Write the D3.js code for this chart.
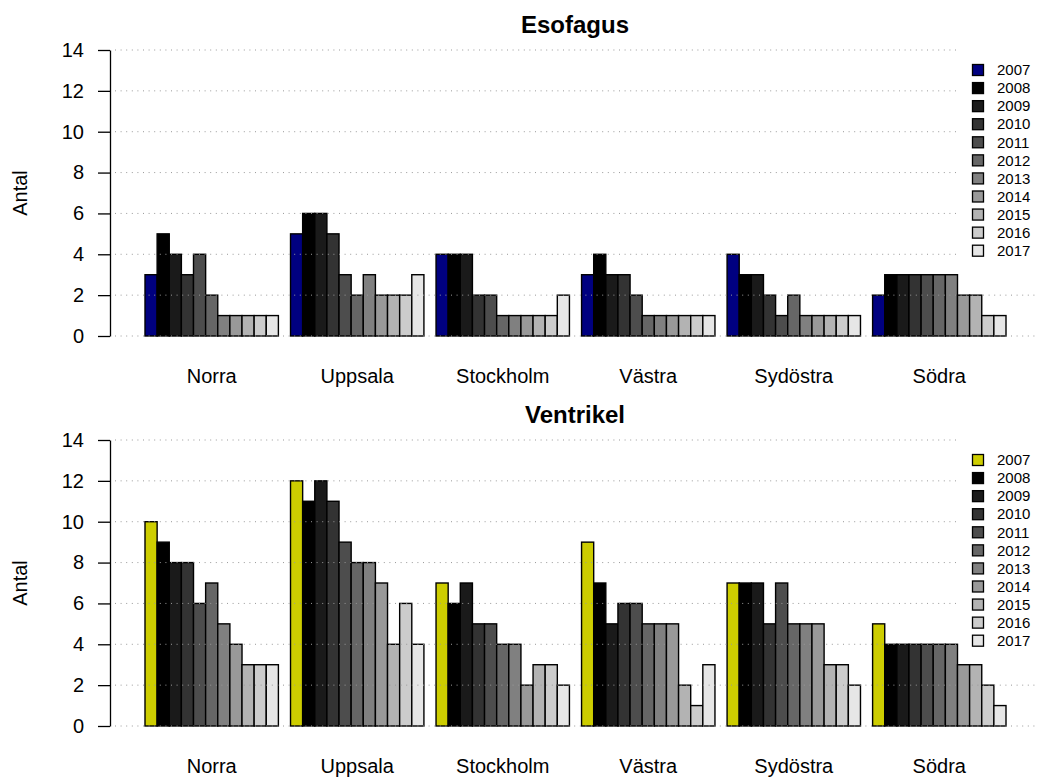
<!DOCTYPE html>
<html>
<head>
<meta charset="utf-8">
<script src="https://cdn.jsdelivr.net/npm/d3@7"></script>
<style>
  html, body { margin: 0; padding: 0; background: #fff; }
  svg { display: block; font-family: "Liberation Sans", Arial, sans-serif; }
</style>
</head>
<body>
<svg id="chart" width="1039" height="778"></svg>
<script>
// Regions and years shown in both panels
const regions = ["Norra", "Uppsala", "Stockholm", "Västra", "Sydöstra", "Södra"];
const years = ["2007", "2008", "2009", "2010", "2011", "2012", "2013", "2014", "2015", "2016", "2017"];
const yTicks = [0, 2, 4, 6, 8, 10, 12, 14];

// Counts per region, one value per year 2007..2017
const esofagus = [
  [3, 5, 4, 3, 4, 2, 1, 1, 1, 1, 1],
  [5, 6, 6, 5, 3, 2, 3, 2, 2, 2, 3],
  [4, 4, 4, 2, 2, 1, 1, 1, 1, 1, 2],
  [3, 4, 3, 3, 2, 1, 1, 1, 1, 1, 1],
  [4, 3, 3, 2, 1, 2, 1, 1, 1, 1, 1],
  [2, 3, 3, 3, 3, 3, 3, 2, 2, 1, 1]
];
const ventrikel = [
  [10, 9, 8, 8, 6, 7, 5, 4, 3, 3, 3],
  [12, 11, 12, 11, 9, 8, 8, 7, 4, 6, 4],
  [7, 6, 7, 5, 5, 4, 4, 2, 3, 3, 2],
  [9, 7, 5, 6, 6, 5, 5, 5, 2, 1, 3],
  [7, 7, 7, 5, 7, 5, 5, 5, 3, 3, 2],
  [5, 4, 4, 4, 4, 4, 4, 3, 3, 2, 1]
];

// Grey ramp for 2008..2017; first year gets a highlight colour per panel
const greys = ["#000000", "#1A1A1A", "#333333", "#4D4D4D", "#666666", "#808080", "#999999", "#B3B3B3", "#CCCCCC", "#E6E6E6"];

const panels = [
  { title: "Esofagus", data: esofagus, first: "#000080", top: 0 },
  { title: "Ventrikel", data: ventrikel, first: "#CDCD00", top: 390 }
];

const svg = d3.select("#chart");

const x0 = d3.scaleBand().domain(regions).range([145, 1006]).paddingInner(1 / 12).paddingOuter(0);
const x1 = d3.scaleBand().domain(years).range([0, x0.bandwidth()]);

panels.forEach(p => {
  const g = svg.append("g").attr("transform", `translate(0,${p.top})`);
  const y = d3.scaleLinear().domain([0, 14]).range([336, 50]);
  const color = d3.scaleOrdinal().domain(years).range([p.first].concat(greys));

  // bars
  const groups = g.selectAll("g.region")
    .data(regions.map((r, i) => ({ region: r, values: p.data[i] })))
    .join("g")
    .attr("class", "region")
    .attr("transform", d => `translate(${x0(d.region)},0)`);

  groups.selectAll("rect")
    .data(d => d.values.map((v, j) => ({ year: years[j], value: v })))
    .join("rect")
    .attr("x", d => x1(d.year))
    .attr("y", d => y(d.value))
    .attr("width", x1.bandwidth())
    .attr("height", d => y(0) - y(d.value))
    .attr("fill", d => color(d.year))
    .attr("stroke", "#000")
    .attr("stroke-width", 1.4);

  // dotted horizontal guides, drawn over the bars
  g.append("g").selectAll("line")
    .data(yTicks)
    .join("line")
    .attr("x1", 115)
    .attr("x2", 1039)
    .attr("y1", d => y(d))
    .attr("y2", d => y(d))
    .attr("stroke", "#999")
    .attr("stroke-width", 1)
    .attr("stroke-dasharray", "1,4.6");

  // legend on a white backing
  const lg = g.append("g");
  lg.append("rect")
    .attr("x", 959).attr("y", 44).attr("width", 80).attr("height", 218)
    .attr("fill", "#fff");
  const rows = lg.selectAll("g.item")
    .data(years)
    .join("g")
    .attr("class", "item")
    .attr("transform", (d, i) => `translate(0,${70 + i * 18.07})`);
  rows.append("rect")
    .attr("x", 972.5).attr("y", -5.5).attr("width", 11).attr("height", 11)
    .attr("fill", d => color(d))
    .attr("stroke", "#000")
    .attr("stroke-width", 1.3);
  rows.append("text")
    .attr("x", 997)
    .attr("y", 0)
    .attr("dy", "0.35em")
    .attr("font-size", 15)
    .text(d => d);

  // y axis
  const ax = g.append("g")
    .attr("transform", "translate(110,0)")
    .call(d3.axisLeft(y).tickValues(yTicks).tickSize(12).tickSizeOuter(0).tickPadding(14));
  ax.select(".domain").attr("stroke", "#000").attr("stroke-width", 1.3);
  ax.selectAll(".tick line").attr("stroke", "#000").attr("stroke-width", 1.3);
  ax.selectAll(".tick text")
    .attr("font-size", 20)
    .attr("font-family", "Liberation Sans, Arial, sans-serif")
    .attr("fill", "#000");

  // region names under each group
  g.append("g").selectAll("text")
    .data(regions)
    .join("text")
    .attr("x", d => x0(d) + x0.bandwidth() / 2)
    .attr("y", 383)
    .attr("text-anchor", "middle")
    .attr("font-size", 20)
    .text(d => d);

  // axis title
  g.append("text")
    .attr("transform", "translate(27,193) rotate(-90)")
    .attr("text-anchor", "middle")
    .attr("font-size", 20)
    .text("Antal");

  // panel title
  g.append("text")
    .attr("x", 575)
    .attr("y", 33)
    .attr("text-anchor", "middle")
    .attr("font-size", 24)
    .attr("font-weight", "bold")
    .text(p.title);
});
</script>
</body>
</html>
